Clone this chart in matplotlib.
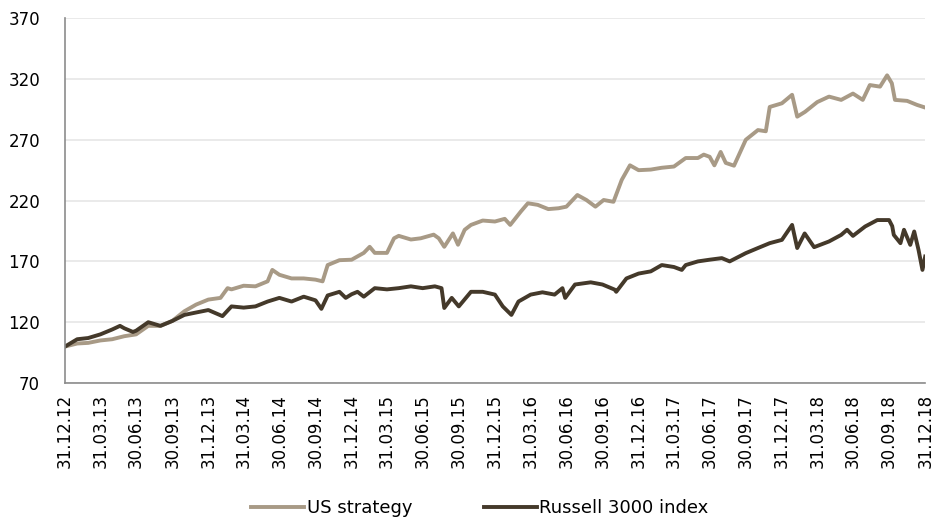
#us strategy vs russell 3000 index
import matplotlib.pyplot as plt
import matplotlib.dates as mdates
import pandas as pd

# values
us_dates = ['2012-12-31', '2013-01-31', '2013-02-28', '2013-03-31', '2013-04-30', '2013-05-31',
            '2013-06-30', '2013-07-31', '2013-08-31', '2013-09-30', '2013-10-31', '2013-11-30',
            '2013-12-31', '2014-01-31', '2014-02-18', '2014-02-28', '2014-03-31', '2014-04-30',
            '2014-05-31', '2014-06-12', '2014-06-30', '2014-07-31', '2014-08-31', '2014-09-30',
            '2014-10-18', '2014-10-31', '2014-11-30', '2014-12-31', '2015-01-31', '2015-02-15',
            '2015-02-28', '2015-03-31', '2015-04-18', '2015-04-30', '2015-05-31', '2015-06-25',
            '2015-07-28', '2015-08-10', '2015-08-24', '2015-09-15', '2015-09-28', '2015-10-15',
            '2015-10-31', '2015-11-30', '2015-12-31', '2016-01-25', '2016-02-08', '2016-03-06',
            '2016-03-24', '2016-04-18', '2016-05-15', '2016-06-10', '2016-06-30', '2016-07-28',
            '2016-08-20', '2016-09-12', '2016-10-03', '2016-10-28', '2016-11-18', '2016-12-09',
            '2016-12-31', '2017-01-31', '2017-02-28', '2017-03-31', '2017-04-30', '2017-05-31',
            '2017-06-15', '2017-06-30', '2017-07-12', '2017-07-28', '2017-08-10', '2017-08-31',
            '2017-09-30', '2017-10-31', '2017-11-20', '2017-11-30', '2017-12-31', '2018-01-26',
            '2018-02-08', '2018-02-28', '2018-03-31', '2018-04-30', '2018-05-31', '2018-06-30',
            '2018-07-25', '2018-08-12', '2018-09-07', '2018-09-25', '2018-10-07', '2018-10-15',
            '2018-11-15', '2018-12-10', '2018-12-31']
us_strategy = [100, 102.5, 103, 105, 106, 108.5,
               110, 117, 117, 121, 129, 134.5,
               138.6, 140, 148, 147, 150, 149.5,
               153.6, 163, 159, 156, 156, 155,
               153.6, 167, 171, 171.4, 177, 182,
               177, 177, 189, 191, 188, 189,
               192, 189, 182, 193, 183.7, 196,
               200, 203.6, 202.8, 205, 200, 211,
               217.8, 216.5, 213, 213.7, 215, 224.6,
               220.5, 215, 220.5, 219, 237, 249,
               245, 245.5, 247, 248, 255, 255,
               257.8, 256, 249, 260, 251, 248.7,
               270, 278, 277, 297, 300, 307,
               289, 293, 301, 305.5, 302.8, 308,
               302.8, 315, 313.7, 323, 316.5, 302.8,
               302, 298.7, 296.5]

ru_dates = ['2012-12-31', '2013-01-31', '2013-02-28', '2013-03-31', '2013-04-30', '2013-05-20',
            '2013-05-31', '2013-06-22', '2013-06-30', '2013-07-31', '2013-08-31', '2013-09-30',
            '2013-10-31', '2013-11-30', '2013-12-31', '2014-02-05', '2014-02-28', '2014-03-31',
            '2014-04-30', '2014-05-31', '2014-06-30', '2014-07-31', '2014-08-31', '2014-09-30',
            '2014-10-15', '2014-10-31', '2014-11-30', '2014-12-16', '2014-12-31', '2015-01-15',
            '2015-01-31', '2015-02-28', '2015-03-31', '2015-04-30', '2015-05-31', '2015-06-30',
            '2015-07-31', '2015-08-17', '2015-08-24', '2015-09-12', '2015-09-30', '2015-10-31',
            '2015-11-30', '2015-12-31', '2016-01-20', '2016-02-11', '2016-02-29', '2016-03-31',
            '2016-04-30', '2016-05-31', '2016-06-20', '2016-06-27', '2016-07-22', '2016-08-31',
            '2016-09-30', '2016-10-31', '2016-11-04', '2016-11-30', '2016-12-31', '2017-01-31',
            '2017-02-28', '2017-03-31', '2017-04-20', '2017-04-30', '2017-05-31', '2017-06-30',
            '2017-07-31', '2017-08-20', '2017-09-30', '2017-10-31', '2017-11-30', '2017-12-31',
            '2018-01-26', '2018-02-08', '2018-02-27', '2018-03-23', '2018-04-30', '2018-05-31',
            '2018-06-15', '2018-06-30', '2018-07-31', '2018-08-31', '2018-09-30', '2018-10-08',
            '2018-10-12', '2018-10-29', '2018-11-07', '2018-11-23', '2018-12-03', '2018-12-14',
            '2018-12-24', '2018-12-31']
russell = [100, 106, 107, 110, 114, 117,
           115, 112, 113, 120, 117, 121,
           126, 128, 130, 125, 133, 132,
           133, 137, 140, 137, 141, 138,
           131, 142, 145, 140, 143, 145,
           141, 148, 147, 148, 149.5, 148,
           149.5, 148, 131.7, 140, 133, 145,
           145, 142.7, 133, 126, 137, 142.7,
           144.6, 142.7, 148, 140, 151, 152.8,
           151, 146.8, 145, 156, 160, 161.8,
           167, 165.4, 163, 167, 170, 171.4,
           172.7, 170, 176.8, 181, 185, 187.7,
           200, 181, 193, 181.7, 186.4, 191.8,
           196, 191, 198.7, 204, 204, 199,
           191.8, 185, 196, 183.6, 194.6, 179.5,
           163, 174]

tick_dates = pd.date_range('2012-12-31', '2018-12-31', freq='QE')
y_ticks = [70, 120, 170, 220, 270, 320, 370]

US_COLOR = '#A89A86'
RU_COLOR = '#44392A'

fig = plt.figure(figsize=(9.37, 5.19), dpi=100)
ax = fig.add_axes([0.0694, 0.262, 0.918, 0.703])

ax.plot(pd.to_datetime(us_dates), us_strategy, color=US_COLOR, lw=2.8, label='US strategy')
ax.plot(pd.to_datetime(ru_dates), russell, color=RU_COLOR, lw=2.8, label='Russell 3000 index')

ax.set_ylim(70, 370)
ax.set_yticks(y_ticks)
ax.set_xlim(tick_dates[0], tick_dates[-1])
ax.set_xticks(tick_dates)
ax.xaxis.set_major_formatter(mdates.DateFormatter('%d.%m.%y'))
ax.tick_params(axis='x', rotation=90, length=0, labelsize=12, pad=8)
ax.tick_params(axis='y', length=0, labelsize=12, pad=18)

ax.grid(axis='y', color='#E6E6E6', lw=1.2)
ax.set_axisbelow(True)
for side in ['top', 'right']:
    ax.spines[side].set_visible(False)
for side in ['left', 'bottom']:
    ax.spines[side].set_color('#8C8C8C')
    ax.spines[side].set_linewidth(1.2)

fig.legend(loc='center', bbox_to_anchor=(480/937, 0.021), ncol=2, frameon=False,
           fontsize=13, handlelength=2.9, handletextpad=0.15, columnspacing=4.0)

fig.savefig('out.png', dpi=100)
